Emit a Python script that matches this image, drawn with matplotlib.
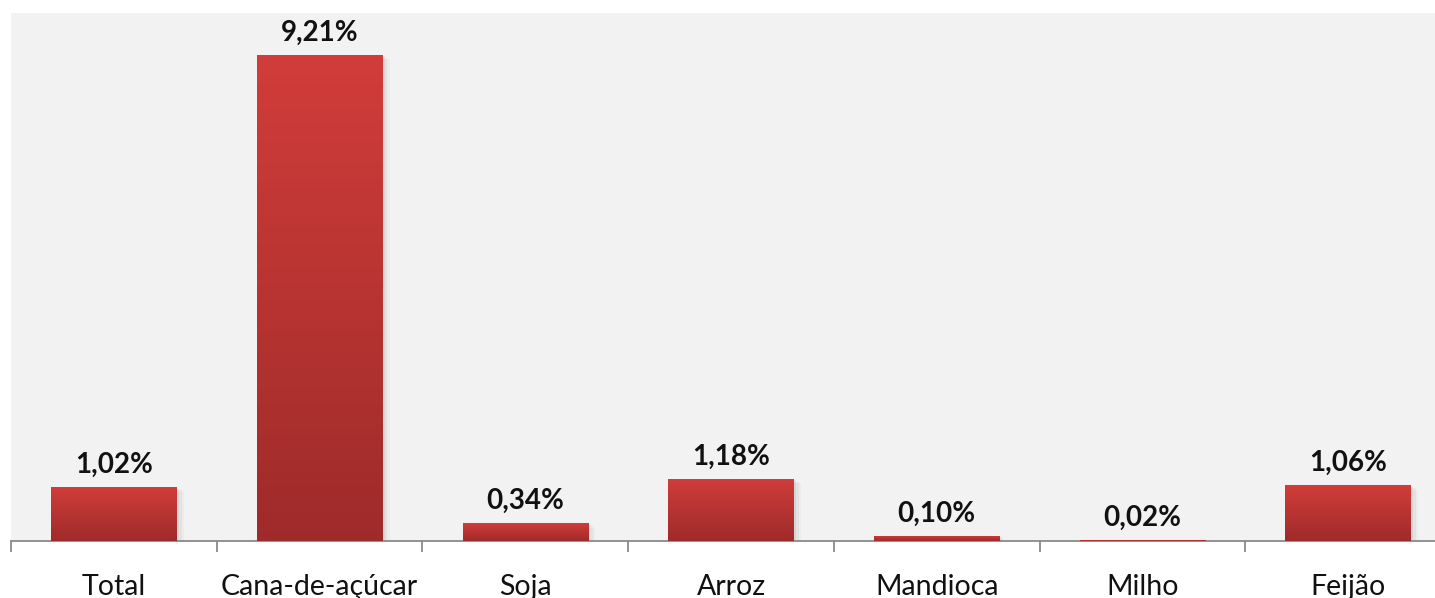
import numpy as np
import matplotlib
matplotlib.use("Agg")
import matplotlib.pyplot as plt
from matplotlib.colors import LinearSegmentedColormap
from matplotlib.patches import Rectangle

categories = ["Total", "Cana-de-açúcar", "Soja", "Arroz", "Mandioca", "Milho", "Feijão"]
values = [1.02, 9.21, 0.34, 1.18, 0.10, 0.02, 1.06]
value_labels = ["1,02%", "9,21%", "0,34%", "1,18%", "0,10%", "0,02%", "1,06%"]

W, H = 1435, 598
fig = plt.figure(figsize=(W / 100, H / 100), dpi=100)
fig.patch.set_facecolor("white")
left, right_px = 11, 1451
bottom_px, top_px = 541, 13
ax = fig.add_axes([left / W, 1 - bottom_px / H, (right_px - left) / W, (bottom_px - top_px) / H])
ax.set_facecolor("#f2f2f2")

ax.set_xlim(-0.5, len(categories) - 0.5)
ax.set_ylim(0, 10)

cmap = LinearSegmentedColormap.from_list("redgrad", ["#9e2b2a", "#d13d3a"])
grad = np.linspace(0, 1, 256).reshape(-1, 1)
bw = 0.61
x = np.arange(len(categories))
bars = ax.bar(x, values, width=bw, color="none", edgecolor="none", zorder=3)
for b in bars:
    bx, by = b.get_x(), b.get_y()
    bwid, bh = b.get_width(), b.get_height()
    # soft shadow
    for i, a in enumerate([0.06, 0.04, 0.025]):
        off = (i + 1) * 0.012
        ax.add_patch(Rectangle((bx + off, by - 0.03 * (i + 1)), bwid, bh, facecolor="black",
                               alpha=a, edgecolor="none", zorder=2))
    im = ax.imshow(grad, cmap=cmap, aspect="auto", origin="lower",
                   extent=[bx, bx + bwid, by, by + bh], zorder=3)
    im.set_clip_path(b)

ax.set_xlim(-0.5, len(categories) - 0.5)
ax.set_ylim(0, 10)

for xi, v, lab in zip(x, values, value_labels):
    ax.annotate(lab, (xi, v), xytext=(0, 9), textcoords="offset pixels",
                ha="center", va="bottom", fontsize=20, fontweight="bold",
                family="Lato", color="#111111", zorder=5)

for s in ["top", "right", "left"]:
    ax.spines[s].set_visible(False)
ax.spines["bottom"].set_color("#898989")
ax.spines["bottom"].set_linewidth(1.3)
ax.set_yticks([])
ax.set_xticks(x)
ax.set_xticklabels(categories, fontsize=20.5, family="Lato", color="#111111")
ax.tick_params(axis="x", which="major", length=0, pad=23.5)
ax.set_xticks(np.arange(len(categories) + 1) - 0.5, minor=True)
ax.tick_params(axis="x", which="minor", length=8, width=1.3, color="#898989")

fig.savefig("out.png", dpi=100)
